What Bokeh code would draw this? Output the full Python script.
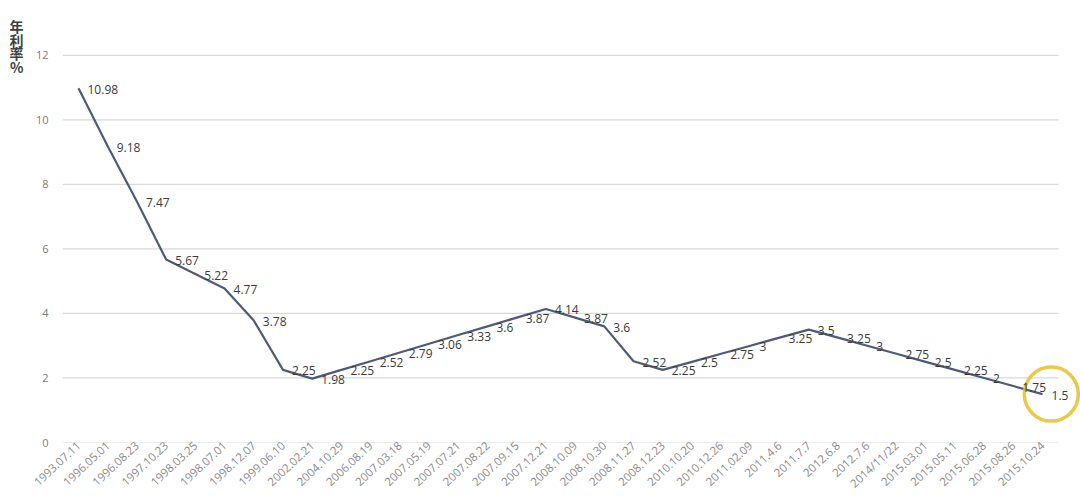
from bokeh.plotting import figure
from bokeh.models import ColumnDataSource, Range1d, FixedTicker, LinearAxis, AllLabels
from bokeh.core.properties import value
from bokeh.embed import file_html
from bokeh.resources import INLINE

dates = ["1993.07.11", "1996.05.01", "1996.08.23", "1997.10.23", "1998.03.25",
         "1998.07.01", "1998.12.07", "1999.06.10", "2002.02.21", "2004.10.29",
         "2006.08.19", "2007.03.18", "2007.05.19", "2007.07.21", "2007.08.22",
         "2007.09.15", "2007.12.21", "2008.10.09", "2008.10.30", "2008.11.27",
         "2008.12.23", "2010.10.20", "2010.12.26", "2011.02.09", "2011.4.6",
         "2011.7.7", "2012.6.8", "2012.7.6", "2014/11/22", "2015.03.01",
         "2015.05.11", "2015.06.28", "2015.08.26", "2015.10.24"]
rates = [10.98, 9.18, 7.47, 5.67, 5.22, 4.77, 3.78, 2.25, 1.98, 2.25,
         2.52, 2.79, 3.06, 3.33, 3.6, 3.87, 4.14, 3.87, 3.6, 2.52,
         2.25, 2.5, 2.75, 3, 3.25, 3.5, 3.25, 3, 2.75, 2.5,
         2.25, 2, 1.75, 1.5]
y_ticks = [0, 2, 4, 6, 8, 10, 12]
y_title = ["年", "利", "率", "%"]

idx = list(range(len(dates)))
labels = [("%g" % r) for r in rates]
src = ColumnDataSource(dict(x=idx, y=rates, t=labels))

n = len(dates)
p = figure(width=1080, height=502, output_backend="svg", toolbar_location=None,
           x_range=Range1d(-0.548, n - 1 + 1.3), y_range=Range1d(0, 13.7),
           min_border_left=62, min_border_right=0, min_border_top=0, min_border_bottom=60)
p.outline_line_color = None
p.background_fill_color = "white"
p.border_fill_color = "white"
p.xgrid.visible = False
p.ygrid.visible = False

# horizontal gridlines
p.segment(x0=[-0.548] * len(y_ticks), x1=[n - 1 + 0.55] * len(y_ticks),
          y0=y_ticks, y1=y_ticks, line_color="#d9d9d9", line_width=1.2)

p.line("x", "y", source=src, line_color="#4e5b78", line_width=2.2)

# highlight circle around the latest value
p.scatter(x=[idx[-1] + 0.3], y=[rates[-1]], size=54, marker="circle",
          fill_color=None, line_color="#e6c02a", line_width=3.5, line_alpha=0.85)

p.text("x", "y", text="t", source=src, x_offset=9, y_offset=1,
       text_baseline="middle", text_align="left",
       text_font=value("Open Sans"), text_font_size="12px", text_color="#3a3a3a")

p.xaxis.ticker = FixedTicker(ticks=idx)
p.xaxis.major_label_overrides = {i: d for i, d in zip(idx, dates)}
p.xaxis.major_label_orientation = 0.75
p.xaxis.major_label_text_font = "Open Sans"
p.xaxis.major_label_text_font_size = "11.5px"
p.xaxis.major_label_text_color = "#8a8a8a"
p.xaxis.axis_line_color = None
p.xaxis.major_tick_line_color = None
p.xaxis.minor_tick_line_color = None
p.xaxis.major_tick_out = 0
p.xaxis.major_label_standoff = 1

p.yaxis.ticker = FixedTicker(ticks=y_ticks)
p.yaxis.major_label_text_font = "Open Sans"
p.yaxis.major_label_text_font_size = "11px"
p.yaxis.major_label_text_color = "#7a7a7a"
p.yaxis.axis_line_color = None
p.yaxis.major_tick_line_color = None
p.yaxis.minor_tick_line_color = None
p.yaxis.major_tick_out = 0
p.yaxis.major_label_standoff = 14

# stacked y-axis title as an extra left axis carrying one character per tick
title_pos = [12.9 - k * 0.42 for k in range(len(y_title))]
tax = LinearAxis(ticker=FixedTicker(ticks=title_pos),
                 major_label_overrides={t: c for t, c in zip(title_pos, y_title)},
                 major_label_policy=AllLabels())
tax.axis_line_color = None
tax.major_tick_line_color = None
tax.minor_tick_line_color = None
tax.major_tick_out = 0
tax.major_label_standoff = 9
tax.major_label_text_font = "Noto Sans CJK SC"
tax.major_label_text_font_size = "14px"
tax.major_label_text_font_style = "bold"
tax.major_label_text_color = "#404040"
p.add_layout(tax, "left")

open("out.html", "w").write(file_html(p, INLINE))
